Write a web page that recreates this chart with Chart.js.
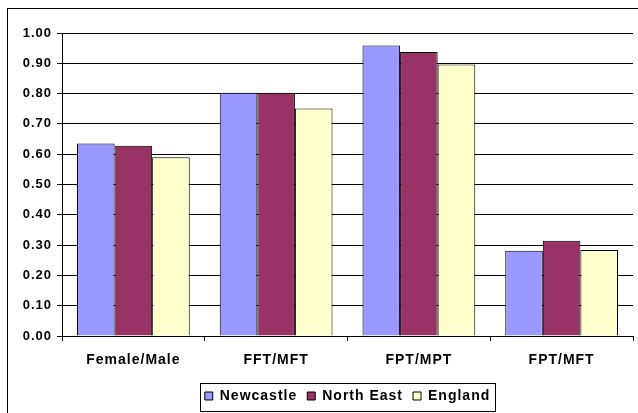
<!DOCTYPE html>
<html>
<head>
<meta charset="utf-8">
<script src="https://cdn.jsdelivr.net/npm/chart.js@4"></script>
<style>
  html, body { margin: 0; padding: 0; background: #fff; }
  #wrap { width: 638px; height: 413px; position: relative; }
</style>
</head>
<body>
<div id="wrap"><canvas id="myChart"></canvas></div>
<script>
var ctx = document.querySelector('#myChart');

const categories = ['Female/Male', 'FFT/MFT', 'FPT/MPT', 'FPT/MFT'];
const newcastleValues = [0.635, 0.803, 0.959, 0.281];
const northEastValues = [0.628, 0.803, 0.937, 0.314];
const englandValues = [0.590, 0.751, 0.896, 0.284];

const Y_MIN = 0;
const Y_MAX = 1;
const Y_STEP = 0.1;

const COLOR_NEWCASTLE = '#9999FF';
const COLOR_NORTH_EAST = '#993366';
const COLOR_ENGLAND = '#FFFFCC';
const FONT_FAMILY = '"Liberation Sans", Arial, sans-serif';

// excel spreads its bold text a bit, so add some letter spacing
function setSpacing(chart) {
  chart.ctx.letterSpacing = '1px';
}

const framePlugin = {
  id: 'frame',
  beforeUpdate(chart) { setSpacing(chart); },
  afterLayout(chart) {
    // centre the legend under the plot area, not the whole canvas
    const lg = chart.legend;
    const ca = chart.chartArea;
    const d = (ca.left + ca.right) / 2 - (lg.left + lg.right) / 2;
    lg.left += d;
    lg.right += d;
  },
  beforeDraw(chart) {
    const c = chart.ctx;
    setSpacing(chart);
    c.save();
    c.fillStyle = '#fff';
    c.fillRect(0, 0, chart.width, chart.height);
    c.strokeStyle = '#000';
    c.lineWidth = 1;
    c.strokeRect(7.5, 8.5, chart.width, chart.height);
    c.restore();
  },
  afterDraw(chart) {
    const boxes = chart.legend.legendHitBoxes;
    if (!boxes || !boxes.length) return;
    const first = boxes[0];
    const last = boxes[boxes.length - 1];
    const c = chart.ctx;
    c.save();
    c.strokeStyle = '#000';
    c.lineWidth = 1;
    const x0 = Math.round(first.left - 5) + 0.5;
    const x1 = Math.round(last.left + last.width + 5) + 0.5;
    const y0 = Math.round(first.top - 6) + 0.5;
    const y1 = Math.round(first.top + first.height + 8) + 0.5;
    c.strokeRect(x0, y0, x1 - x0, y1 - y0);
    c.restore();
  }
};

new Chart(ctx, {
  type: 'bar',
  data: {
    labels: categories,
    datasets: [
      {
        label: 'Newcastle',
        data: newcastleValues,
        backgroundColor: COLOR_NEWCASTLE,
        borderColor: '#000',
        borderWidth: 1
      },
      {
        label: 'North East',
        data: northEastValues,
        backgroundColor: COLOR_NORTH_EAST,
        borderColor: '#000',
        borderWidth: 1
      },
      {
        label: 'England',
        data: englandValues,
        backgroundColor: COLOR_ENGLAND,
        borderColor: '#000',
        borderWidth: 1
      }
    ]
  },
  options: {
    responsive: true,
    maintainAspectRatio: false,
    animation: false,
    devicePixelRatio: 1,
    layout: {
      padding: { left: 0, right: 5, top: 33, bottom: 0 }
    },
    datasets: {
      bar: { categoryPercentage: 0.79, barPercentage: 1.0 }
    },
    plugins: {
      legend: {
        position: 'bottom',
        labels: {
          color: '#000',
          font: { family: FONT_FAMILY, size: 14, weight: 'bold' },
          boxWidth: 8,
          boxHeight: 8,
          padding: 10,
          useBorderRadius: false
        }
      },
      tooltip: { enabled: false }
    },
    scales: {
      x: {
        grid: {
          offset: true,
          drawOnChartArea: false,
          drawTicks: true,
          tickLength: 5,
          color: '#000'
        },
        border: { color: '#000', width: 1 },
        ticks: {
          color: '#000',
          padding: 11,
          font: { family: FONT_FAMILY, size: 14, weight: 'bold' }
        },
        afterFit: function (scale) { scale.height = 43; }
      },
      y: {
        min: Y_MIN,
        max: Y_MAX,
        grid: {
          color: '#000',
          tickLength: 5,
          drawTicks: true
        },
        border: { color: '#000', width: 1 },
        ticks: {
          stepSize: Y_STEP,
          color: '#000',
          padding: 5,
          font: { family: FONT_FAMILY, size: 13, weight: 'bold' },
          callback: function (value) { return Number(value).toFixed(2); }
        },
        afterFit: function (scale) { scale.width = 62; }
      }
    }
  },
  plugins: [framePlugin]
});
</script>
</body>
</html>
